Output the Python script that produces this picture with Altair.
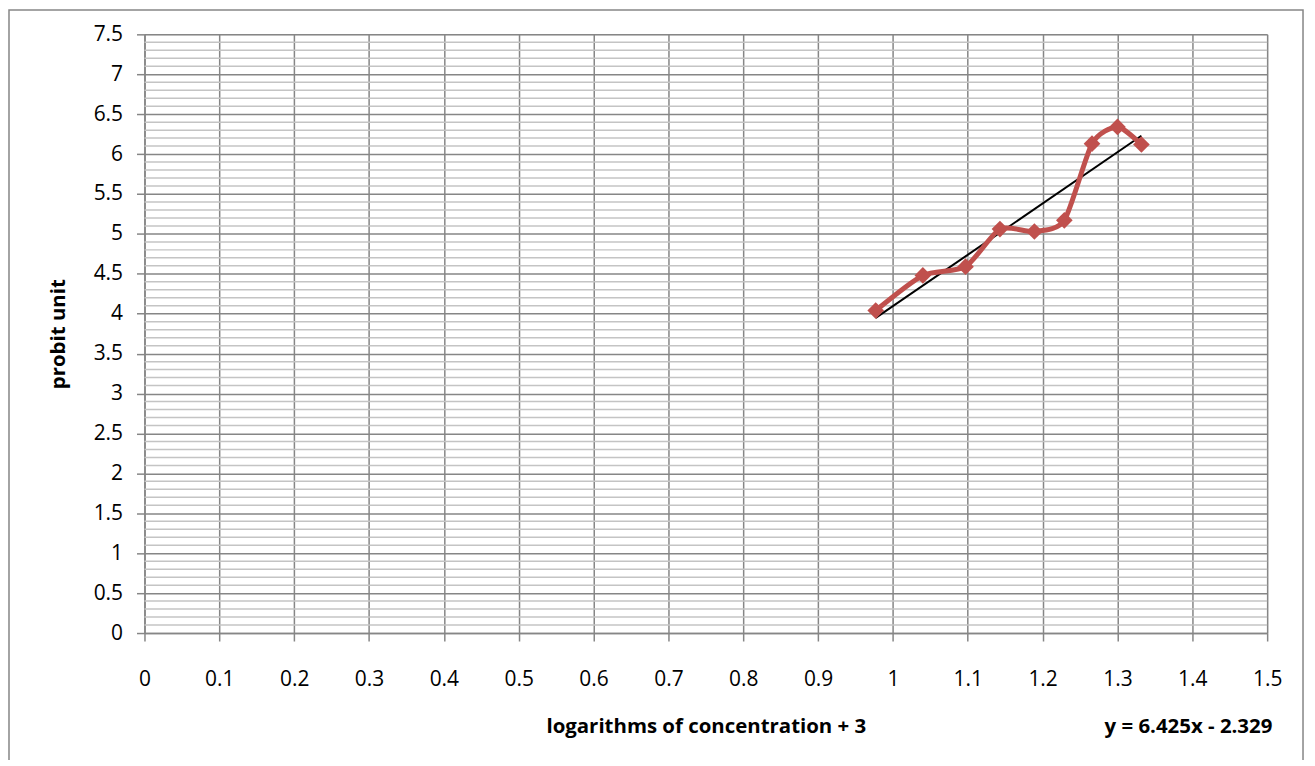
import altair as alt
import pandas as pd

# data
log_conc = [0.977, 1.040, 1.097, 1.143, 1.189, 1.229, 1.266, 1.300, 1.332]
probit = [4.04, 4.48, 4.59, 5.06, 5.03, 5.17, 6.13, 6.34, 6.12]
slope = 6.425
intercept = -2.329
x_ticks = [round(i * 0.1, 1) for i in range(16)]
y_major = [round(i * 0.5, 1) for i in range(16)]
y_minor = [round(i * 0.1, 1) for i in range(76) if i % 5 != 0]
equation = "y = 6.425x - 2.329"

FONT = "Open Sans"
FS = 21
TFS = 20.5
W, H = 1127, 601

df = pd.DataFrame({"x": log_conc, "y": probit})
trend = pd.DataFrame({"x": [min(log_conc), max(log_conc)]})
trend["y"] = slope * trend["x"] + intercept
minor = pd.DataFrame({"y": y_minor})

xs = alt.Scale(domain=[0, 1.5], nice=False, zero=False)
ys = alt.Scale(domain=[0, 7.5], nice=False, zero=False)

minor_rules = alt.Chart(minor).mark_rule(color="#c4c4c4", strokeWidth=1.5).encode(
    y=alt.Y("y:Q", scale=ys,
            axis=alt.Axis(values=y_major, title="probit unit", titleFont=FONT,
                          titleFontSize=TFS, titleFontWeight="bold", titleColor="#000",
                          titlePadding=25, labelFont=FONT, labelFontSize=FS,
                          labelColor="#000", labelPadding=14, tickSize=8,
                          tickColor="#868686", domainColor="#868686",
                          gridColor="#868686", gridWidth=1.5, tickWidth=1.5,
                          domainWidth=1.5,
                          labelExpr="format(datum.value, '.1~f')")),
)

line = alt.Chart(df).mark_line(color="#c0504d", strokeWidth=5,
                               interpolate="cardinal", tension=0.3).encode(
    x=alt.X("x:Q", scale=xs,
            axis=alt.Axis(values=x_ticks, title="logarithms of concentration + 3",
                          titleFont=FONT, titleFontSize=TFS, titleFontWeight="bold",
                          titleColor="#000", titlePadding=27, labelFont=FONT,
                          labelFontSize=FS, labelColor="#000", labelPadding=28,
                          tickSize=8, tickColor="#868686", domainColor="#868686",
                          gridColor="#868686", gridWidth=1.5, tickWidth=1.5,
                          domainWidth=1.5, labelFlush=False,
                          labelExpr="format(datum.value, '.1~f')")),
    y=alt.Y("y:Q", scale=ys),
)

points = alt.Chart(df).mark_point(shape="diamond", filled=True, color="#c0504d",
                                  size=280, opacity=1).encode(
    x=alt.X("x:Q", scale=xs), y=alt.Y("y:Q", scale=ys))

trend_line = alt.Chart(trend).mark_line(color="#000000", strokeWidth=2).encode(
    x=alt.X("x:Q", scale=xs), y=alt.Y("y:Q", scale=ys))

eq_text = alt.Chart(pd.DataFrame({"t": [equation]})).mark_text(
    font=FONT, fontSize=TFS, fontWeight="bold", color="#000", align="center",
    baseline="middle").encode(
    text="t:N", x=alt.value(1193 - 145), y=alt.value(728 - 33))

border = alt.Chart(pd.DataFrame({"a": [0]})).mark_rect(
    fill=None, stroke="#868686", strokeWidth=1.5).encode(
    x=alt.value(-136), x2=alt.value(W + 36), y=alt.value(-24.5), y2=alt.value(H + 200))

chart = alt.layer(minor_rules, trend_line, line, points, eq_text, border).properties(
    width=W, height=H,
    autosize=alt.AutoSizeParams(type="none"),
    padding={"left": 137, "top": 25, "right": 40, "bottom": 126},
).configure_view(stroke=None).configure(background="white")

chart.save("out.html", embed_options={"renderer": "svg", "actions": False})
